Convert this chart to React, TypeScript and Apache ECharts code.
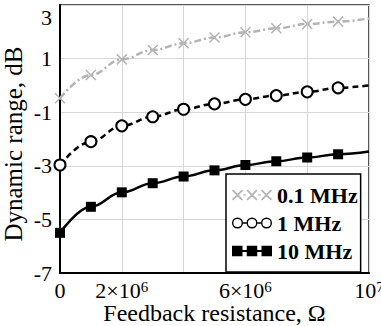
import React, { useEffect, useRef } from "react";
import * as echarts from "echarts";

const xValues = [0, 1e6, 2e6, 3e6, 4e6, 5e6, 6e6, 7e6, 8e6, 9e6, 1e7];
const seriesNames = ["0.1 MHz", "1 MHz", "10 MHz"];
const lowFreq = [-0.48, 0.39, 0.97, 1.32, 1.57, 1.79, 1.98, 2.13, 2.29, 2.38, 2.5];
const midFreq = [-2.97, -2.1, -1.51, -1.17, -0.89, -0.69, -0.52, -0.38, -0.24, -0.09, 0.0];
const highFreq = [-5.5, -4.53, -3.99, -3.65, -3.4, -3.17, -2.97, -2.83, -2.69, -2.57, -2.47];
const yTicks = { min: -7, max: 3, step: 2 };
const xTicks = { min: 0, max: 1e7, step: 2e6 };

const FONT = "'Liberation Serif', 'Times New Roman', serif";
const GRAY = "#b4b4b4";

// legend icon paths (bbox 40 x 11)
function crossIcon() {
  const h = 5.5, d = 1.3;
  let p = "";
  [5.5, 20, 34.5].forEach((cx) => {
    const cy = 5.5;
    p += `M${cx - h},${cy - h + d}L${cx - h + d},${cy - h}L${cx + h},${cy + h - d}L${cx + h - d},${cy + h}Z`;
    p += `M${cx + h - d},${cy - h}L${cx + h},${cy - h + d}L${cx - h + d},${cy + h}L${cx - h},${cy + h - d}Z`;
  });
  p += "M11,5L14.5,5L14.5,6L11,6ZM25.5,5L29,5L29,6L25.5,6Z";
  return "path://" + p;
}
function ringIcon() {
  const r = 5.5, ri = 4.1, cy = 5.5;
  let p = "";
  [5.5, 20, 34.5].forEach((cx) => {
    p += `M${cx - r},${cy}A${r},${r} 0 1,0 ${cx + r},${cy}A${r},${r} 0 1,0 ${cx - r},${cy}Z`;
    p += `M${cx - ri},${cy}A${ri},${ri} 0 1,1 ${cx + ri},${cy}A${ri},${ri} 0 1,1 ${cx - ri},${cy}Z`;
  });
  p += "M11,4.8L14.5,4.8L14.5,6.2L11,6.2ZM25.5,4.8L29,4.8L29,6.2L25.5,6.2Z";
  return "path://" + p;
}
function squareIcon() {
  let p = "";
  [[0, 10.5], [14.75, 25.25], [29.5, 40]].forEach(([a, b]) => {
    p += `M${a},0.25L${b},0.25L${b},10.75L${a},10.75Z`;
  });
  p += "M0,4.5L40,4.5L40,6.5L0,6.5Z";
  return "path://" + p;
}

function makeData(ys: number[]) {
  return xValues.map((x, i) =>
    i === xValues.length - 1 ? { value: [x, ys[i]], symbol: "none" } : [x, ys[i]]
  );
}

export default function App() {
  const ref = useRef<HTMLDivElement>(null);
  useEffect(() => {
    if (!ref.current) return;
    const chart = echarts.init(ref.current, null, { renderer: "svg" });
    const sup = { fontFamily: FONT, fontSize: 15, color: "#000", verticalAlign: "top" };
    chart.setOption({
      animation: false,
      backgroundColor: "#fff",
      grid: {
        left: 60,
        top: 5,
        width: 309,
        height: 268,
        outerBoundsMode: "none",
        containLabel: false,
        show: true,
        borderColor: "#222",
        borderWidth: 1.5,
        backgroundColor: "transparent",
      },
      xAxis: {
        type: "value",
        min: xTicks.min,
        max: xTicks.max,
        interval: xTicks.step,
        name: "Feedback resistance, Ω",
        nameLocation: "middle",
        nameGap: 28,
        nameMoveOverlap: false,
        nameTextStyle: { fontFamily: FONT, fontSize: 24, color: "#000" },
        axisLine: { show: true, onZero: false, lineStyle: { color: "#000", width: 2 } },
        axisTick: { show: false },
        splitLine: { show: true, lineStyle: { color: "#d6d6d6", width: 1 } },
        axisLabel: {
          margin: 6,
          fontFamily: FONT,
          fontSize: 22,
          color: "#000",
          showMaxLabel: true,
          showMinLabel: true,
          hideOverlap: false,
          formatter: (v: number) => {
            if (v === 0) return "0";
            if (v === 1e7) return "10{sup|7}";
            if (v === 2e6 || v === 6e6) return `${v / 1e6}×10{sup|6}`;
            return "";
          },
          rich: { sup },
        },
      },
      yAxis: {
        type: "value",
        min: yTicks.min,
        max: yTicks.max,
        interval: yTicks.step,
        name: "Dynamic range, dB",
        nameLocation: "middle",
        nameGap: 34,
        nameMoveOverlap: false,
        nameTextStyle: { fontFamily: FONT, fontSize: 25, color: "#000", padding: [0, 10, 0, 0] },
        axisLine: { show: true, onZero: false, lineStyle: { color: "#000", width: 2 } },
        axisTick: { show: false },
        splitLine: { show: true, lineStyle: { color: "#d6d6d6", width: 1 } },
        axisLabel: {
          margin: 8,
          fontFamily: FONT,
          fontSize: 22,
          color: "#000",
          formatter: (v: number) => (v === 3 ? "{top|3}" : String(v)),
          rich: { top: { fontFamily: FONT, fontSize: 22, color: "#000", padding: [24, 0, 0, 0] } },
        },
      },
      legend: {
        orient: "vertical",
        left: 226,
        top: 174,
        padding: [10, 3, 10, 6],
        itemGap: 6,
        itemWidth: 40,
        itemHeight: 11,
        backgroundColor: "#fff",
        borderColor: "#000",
        borderWidth: 1.5,
        borderRadius: 0,
        textStyle: { fontFamily: FONT, fontWeight: "bold", fontSize: 22, color: "#000" },
        data: [
          { name: seriesNames[0], icon: crossIcon(), itemStyle: { color: GRAY, borderWidth: 0 } },
          { name: seriesNames[1], icon: ringIcon(), itemStyle: { color: "#000", borderWidth: 0 } },
          { name: seriesNames[2], icon: squareIcon(), itemStyle: { color: "#000", borderWidth: 0 } },
        ],
      },
      series: [
        {
          name: seriesNames[0],
          type: "line",
          smooth: 0.4,
          smoothMonotone: "x",
          data: makeData(lowFreq),
          symbol: "path://M0,0L10,10M10,0L0,10",
          symbolSize: 10,
          itemStyle: { color: GRAY, borderColor: GRAY, borderWidth: 1.5 },
          lineStyle: { color: GRAY, width: 2.5, type: [7, 3, 2, 3] },
          z: 3,
        },
        {
          name: seriesNames[1],
          type: "line",
          smooth: 0.4,
          smoothMonotone: "x",
          data: makeData(midFreq),
          symbol: "emptyCircle",
          symbolSize: 11,
          itemStyle: { color: "#000", borderColor: "#000", borderWidth: 1.5 },
          lineStyle: { color: "#000", width: 2.5, type: [6, 4] },
          z: 3,
        },
        {
          name: seriesNames[2],
          type: "line",
          smooth: 0.4,
          smoothMonotone: "x",
          data: makeData(highFreq),
          symbol: "rect",
          symbolSize: 10,
          itemStyle: { color: "#000" },
          lineStyle: { color: "#000", width: 2.5 },
          z: 3,
        },
      ],
    });
    return () => chart.dispose();
  }, []);
  return <div ref={ref} style={{ width: 381, height: 326, position: "absolute", left: 0, top: 0 }} />;
}
